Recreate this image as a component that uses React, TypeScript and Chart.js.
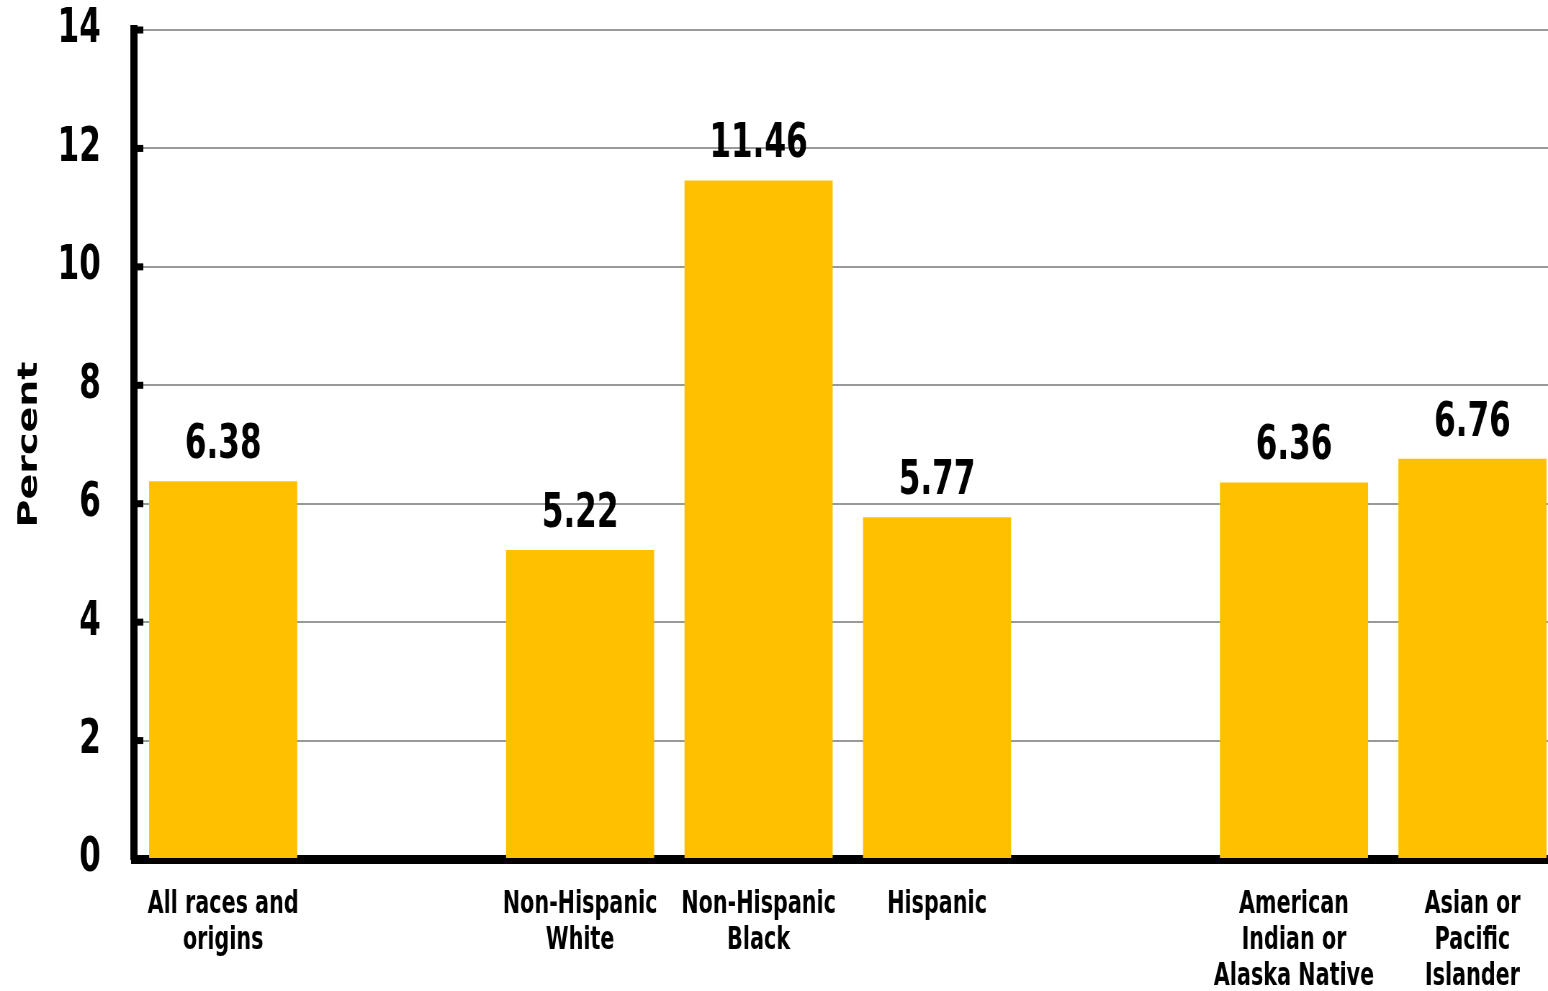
import React, { useEffect, useRef } from "react";
import { Chart, registerables } from "chart.js";

Chart.register(...registerables);

// Category labels (empty strings leave gaps between groups)
const categories: (string | string[])[] = [
  ["All races and", "origins"],
  "",
  ["Non-Hispanic", "White"],
  ["Non-Hispanic", "Black"],
  "Hispanic",
  "",
  ["American", "Indian or", "Alaska Native"],
  ["Asian or", "Pacific", "Islander"],
];

// Percent values per category
const percentValues: (number | null)[] = [6.38, null, 5.22, 11.46, 5.77, null, 6.36, 6.76];

const yTickValues = [0, 2, 4, 6, 8, 10, 12, 14];

// The canvas is drawn wide and squeezed horizontally on screen,
// which gives the tall, narrow lettering of the figure.
const SQUEEZE = 0.72;
const LOGICAL_W = 2200;
const LOGICAL_H = 991;

const NARROW = "'DejaVu Sans Condensed', 'DejaVu Sans', sans-serif";
const BAR_COLOR = "#FFC000";

// Value labels above each bar
const valueLabelPlugin = {
  id: "valueLabels",
  afterDatasetsDraw(chart: any) {
    const ctx = chart.ctx;
    const meta = chart.getDatasetMeta(0);
    ctx.save();
    ctx.font = `bold 48px ${NARROW}`;
    ctx.fillStyle = "#000";
    ctx.textAlign = "center";
    ctx.textBaseline = "alphabetic";
    meta.data.forEach((bar: any, i: number) => {
      const v = percentValues[i];
      if (v == null) return;
      ctx.fillText(v.toFixed(2), bar.x, bar.y - 23);
    });
    ctx.restore();
  },
};

// Short tick marks on the inner side of the vertical axis
const innerTicksPlugin = {
  id: "innerTicks",
  afterDraw(chart: any) {
    const ctx = chart.ctx;
    const y = chart.scales.y;
    const left = chart.chartArea.left;
    ctx.save();
    ctx.fillStyle = "#000";
    yTickValues.forEach((v) => {
      if (v === 0) return;
      const py = y.getPixelForValue(v);
      ctx.fillRect(left + 3, py - 3.5, 10, 7);
    });
    ctx.restore();
  },
};

export default function App() {
  const canvasRef = useRef<HTMLCanvasElement | null>(null);

  useEffect(() => {
    if (!canvasRef.current) return;
    const chart = new Chart(canvasRef.current, {
      type: "bar",
      data: {
        labels: categories,
        datasets: [
          {
            data: percentValues,
            backgroundColor: BAR_COLOR,
            borderWidth: 0,
            categoryPercentage: 1,
            barPercentage: 0.83,
          },
        ],
      },
      options: {
        responsive: false,
        animation: false,
        devicePixelRatio: 1,
        layout: { padding: { left: 0, right: 31, top: 30, bottom: 0 } },
        plugins: {
          legend: { display: false },
          tooltip: { enabled: false },
        },
        scales: {
          x: {
            grid: { display: false, drawTicks: false },
            border: { display: true, color: "#000", width: 9 },
            ticks: {
              autoSkip: false,
              maxRotation: 0,
              minRotation: 0,
              padding: 28,
              color: "#000",
              font: { family: NARROW, size: 32, weight: "bold", lineHeight: "36px" },
            },
            afterFit(scale: any) {
              scale.height = 132;
              scale.paddingLeft = 0;
              scale.paddingRight = 0;
            },
          },
          y: {
            min: 0,
            max: 14,
            grid: { color: "#999999", lineWidth: 2, drawTicks: false },
            border: { display: true, color: "#000", width: 10 },
            ticks: {
              stepSize: 2,
              padding: 46,
              color: "#000",
              font: { family: NARROW, size: 48, weight: "bold" },
            },
            title: {
              display: true,
              text: "Percent",
              color: "#000",
              padding: { top: 18, bottom: 0 },
              font: { family: "'DejaVu Sans', sans-serif", size: 38, weight: "bold" },
            },
            afterFit(scale: any) {
              scale.width = 186;
              scale.paddingTop = 0;
              scale.paddingBottom = 0;
            },
          },
        },
      },
      plugins: [valueLabelPlugin, innerTicksPlugin],
    });
    return () => chart.destroy();
  }, []);

  return (
    <div
      style={{
        position: "absolute",
        left: 0,
        top: 0,
        width: 1548,
        height: 991,
        overflow: "hidden",
        background: "#fff",
      }}
    >
      <canvas
        ref={canvasRef}
        width={LOGICAL_W}
        height={LOGICAL_H}
        style={{ width: LOGICAL_W * SQUEEZE, height: LOGICAL_H, display: "block" }}
      />
    </div>
  );
}
